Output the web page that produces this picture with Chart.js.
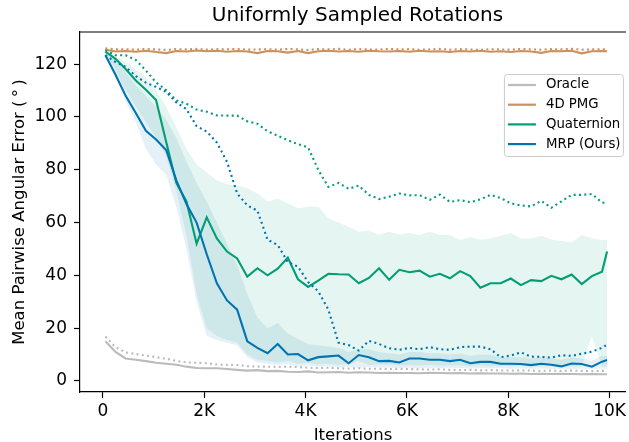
<!DOCTYPE html>
<html>
<head>
<meta charset="utf-8">
<title>Uniformly Sampled Rotations</title>
<script src="https://cdn.jsdelivr.net/npm/chart.js@4.4.0/dist/chart.umd.min.js"></script>
<style>
  html, body { margin: 0; padding: 0; background: #fff; }
  canvas { display: block; }
</style>
</head>
<body>
<canvas id="rotationChart" width="629" height="442"></canvas>
<script>
// iterations where the curves were logged
const iterations = [50, 250, 450, 650, 850, 1050, 1250, 1450, 1650, 1850,
  2050, 2250, 2450, 2650, 2850, 3050, 3250, 3450, 3650, 3850,
  4050, 4250, 4450, 4650, 4850, 5050, 5250, 5450, 5650, 5850,
  6050, 6250, 6450, 6650, 6850, 7050, 7250, 7450, 7650, 7850,
  8050, 8250, 8450, 8650, 8850, 9050, 9250, 9450, 9650, 9850, 9950];
const xTicks = [0, 2000, 4000, 6000, 8000, 10000];
const yTicks = [0, 20, 40, 60, 80, 100, 120];
const seriesNames = ['Oracle', '4D PMG', 'Quaternion', 'MRP (Ours)'];
const chartTitle = 'Uniformly Sampled Rotations';

// solid = mean, dotted = second run
const oracleMean = [15.0, 11.0, 8.5, 8.0, 7.5, 6.9, 6.5, 6.1, 5.4, 4.9, 4.8, 4.8, 4.5, 4.2, 3.9, 4.1, 3.7, 3.8, 3.5, 3.4, 3.6, 3.2, 3.3, 3.4, 3.1, 3.3, 3.2, 3.0, 3.1, 3.0, 3.0, 2.9, 3.1, 3.0, 2.9, 3.0, 2.8, 2.9, 2.8, 2.8, 2.7, 2.8, 2.6, 2.7, 2.6, 2.7, 2.6, 2.5, 2.6, 2.5, 2.5];
const oracleDotted = [16.8, 12.8, 10.8, 10.2, 9.6, 9.0, 8.4, 7.6, 7.0, 6.9, 6.7, 6.2, 6.1, 6.0, 5.6, 5.4, 5.4, 5.3, 5.4, 5.2, 5.0, 4.9, 5.0, 4.8, 4.7, 4.8, 4.6, 4.6, 4.5, 4.6, 4.5, 4.4, 4.3, 4.4, 4.2, 4.1, 4.2, 4.0, 4.1, 4.0, 3.9, 4.0, 3.9, 3.8, 3.9, 3.8, 3.9, 3.8, 3.7, 3.8, 3.8];
const pmgMean = [125.5, 124.8, 125.0, 124.7, 125.1, 124.6, 124.2, 125.0, 124.8, 125.2, 124.9, 125.1, 124.7, 125.0, 124.8, 124.2, 125.0, 124.9, 124.4, 125.0, 124.2, 124.9, 125.1, 124.8, 125.0, 124.7, 125.1, 124.9, 124.8, 125.0, 124.7, 125.1, 124.8, 124.9, 124.6, 125.0, 124.8, 125.1, 124.7, 124.9, 124.6, 125.0, 124.8, 124.3, 125.0, 124.9, 125.1, 124.1, 124.9, 125.0, 124.9];
const pmgDotted = [126.0, 125.6, 125.7, 125.5, 125.8, 125.6, 125.4, 125.7, 125.6, 125.8, 125.5, 125.7, 125.6, 125.8, 125.5, 125.6, 125.7, 125.5, 125.8, 125.6, 125.4, 125.7, 125.6, 125.8, 125.5, 125.7, 125.6, 125.5, 125.8, 125.6, 125.7, 125.5, 125.6, 125.8, 125.5, 125.7, 125.6, 125.4, 125.7, 125.6, 125.5, 125.8, 125.6, 125.5, 125.7, 125.6, 125.8, 125.5, 125.6, 125.7, 125.6];
const quatMean = [124.8, 122.0, 118.2, 113.8, 110.3, 106.4, 90.5, 75.0, 68.0, 52.0, 62.0, 54.0, 49.0, 46.4, 39.5, 42.7, 40.0, 42.5, 46.7, 38.5, 35.6, 38.0, 40.6, 40.4, 40.3, 37.0, 39.0, 42.7, 38.3, 42.1, 41.2, 41.8, 39.5, 40.6, 38.9, 41.6, 39.7, 35.3, 37.0, 37.0, 38.8, 36.3, 38.2, 37.8, 39.8, 38.5, 40.3, 36.7, 39.7, 41.4, 49.0];
const quatDotted = [125.3, 123.4, 123.4, 121.6, 117.6, 113.1, 110.2, 106.3, 105.0, 102.8, 102.0, 100.6, 100.5, 100.5, 98.4, 97.4, 94.6, 92.9, 91.2, 89.7, 88.5, 80.0, 73.5, 75.0, 72.8, 74.0, 70.5, 68.9, 69.8, 71.0, 70.3, 70.4, 68.6, 70.6, 67.8, 68.5, 67.7, 68.8, 70.5, 69.3, 67.3, 66.5, 66.1, 68.2, 65.6, 68.0, 70.5, 70.5, 70.8, 67.6, 67.3];
const mrpMean = [123.4, 116.0, 108.0, 101.5, 94.8, 91.5, 87.5, 76.0, 67.0, 60.0, 48.0, 37.0, 30.5, 27.0, 15.0, 12.5, 10.5, 14.0, 10.0, 10.2, 7.8, 9.0, 9.3, 9.6, 6.7, 9.8, 9.0, 7.5, 7.6, 7.0, 8.5, 8.5, 8.0, 8.0, 7.5, 8.0, 6.7, 7.2, 7.2, 6.5, 6.5, 6.4, 6.0, 6.5, 6.1, 5.5, 6.6, 6.4, 5.4, 7.3, 7.9];
const mrpDotted = [123.4, 120.8, 119.0, 115.5, 113.0, 111.4, 109.5, 105.5, 103.0, 96.5, 94.5, 90.3, 83.0, 71.0, 66.5, 64.5, 53.5, 51.5, 45.0, 43.3, 37.5, 34.0, 27.0, 14.5, 13.6, 11.5, 15.2, 14.0, 12.4, 11.8, 12.5, 12.0, 12.8, 12.0, 11.8, 12.8, 13.0, 13.0, 12.0, 9.0, 9.6, 10.8, 9.2, 9.1, 8.8, 9.7, 9.5, 10.3, 11.1, 12.5, 13.8];

// shaded spread
const quatLow = [124.0, 118.0, 110.0, 104.0, 98.0, 92.0, 85.0, 72.0, 55.0, 33.0, 20.0, 17.0, 15.5, 14.5, 10.0, 8.0, 7.5, 7.0, 7.5, 6.5, 6.8, 6.2, 6.5, 6.0, 6.3, 7.5, 6.0, 6.2, 6.0, 5.8, 6.0, 5.8, 6.0, 5.7, 5.8, 5.9, 5.6, 5.8, 5.6, 5.7, 5.6, 5.7, 5.5, 5.6, 5.5, 5.6, 5.5, 5.6, 17.0, 5.5, 5.5];
const quatHigh = [125.0, 123.0, 121.0, 118.0, 115.0, 110.0, 104.0, 96.0, 88.0, 82.0, 79.0, 76.0, 74.5, 74.0, 73.0, 71.0, 68.0, 69.0, 67.3, 65.4, 66.0, 66.0, 61.6, 60.0, 58.4, 56.5, 57.0, 55.5, 56.5, 55.5, 56.0, 55.3, 56.5, 55.3, 55.3, 53.4, 54.5, 53.5, 54.0, 55.0, 56.0, 54.0, 54.0, 55.0, 53.5, 53.0, 52.5, 55.3, 54.0, 53.4, 53.4];
const mrpLow = [123.0, 115.0, 106.0, 98.0, 88.0, 82.0, 78.0, 66.0, 50.0, 30.0, 17.0, 15.5, 14.5, 13.5, 9.0, 7.0, 6.5, 6.0, 6.3, 5.5, 5.8, 5.5, 5.6, 5.2, 5.4, 5.0, 5.3, 5.1, 5.0, 4.9, 5.0, 4.8, 5.0, 4.9, 4.8, 4.9, 4.7, 4.8, 4.7, 4.8, 4.6, 4.7, 4.6, 4.7, 4.5, 4.6, 4.5, 4.6, 4.5, 4.6, 4.6];
const mrpHigh = [124.0, 121.5, 117.0, 112.0, 108.0, 104.0, 99.0, 92.0, 83.0, 75.0, 68.0, 60.0, 52.0, 44.0, 33.0, 24.0, 20.0, 22.0, 18.0, 16.0, 14.0, 13.5, 13.0, 12.5, 11.0, 12.0, 12.0, 11.0, 10.5, 10.0, 11.0, 11.0, 10.5, 10.5, 10.0, 10.5, 9.5, 10.0, 10.0, 9.0, 9.0, 9.0, 8.5, 9.0, 8.5, 8.0, 9.0, 8.5, 7.5, 9.5, 9.5];

const palette = {
  'Oracle': '#bbbbbb',
  '4D PMG': '#ca9161',
  'Quaternion': '#029e73',
  'MRP (Ours)': '#0173b2'
};

Chart.defaults.font.family = '"DejaVu Sans", sans-serif';
Chart.defaults.color = '#000';

function pts(values) {
  return iterations.map((it, i) => ({ x: it, y: values[i] }));
}

function solid(name, values, order) {
  return { label: name, data: pts(values), borderColor: palette[name], borderWidth: 2.1,
    pointRadius: 0, fill: false, tension: 0, order: order };
}

function dotted(name, values, order) {
  return { label: name + ' dotted', data: pts(values), borderColor: palette[name], borderWidth: 2.1,
    borderDash: [2, 3.3], pointRadius: 0, fill: false, tension: 0, order: order };
}

function bandEdge(values, fillTo, color, order) {
  return { label: 'band', data: pts(values), borderWidth: 0, borderColor: 'rgba(0,0,0,0)',
    pointRadius: 0, fill: fillTo, backgroundColor: color, tension: 0, order: order };
}

// top spine + title (the axes box continues past the right edge of the picture)
const frameAndTitle = {
  id: 'frameAndTitle',
  afterDraw(chart) {
    const { ctx, chartArea: a } = chart;
    ctx.save();
    ctx.strokeStyle = '#000';
    ctx.lineWidth = 1.2;
    ctx.beginPath();
    ctx.moveTo(a.left, a.top);
    ctx.lineTo(a.right, a.top);
    ctx.stroke();
    ctx.fillStyle = '#000';
    ctx.font = '20px "DejaVu Sans"';
    ctx.textAlign = 'center';
    ctx.textBaseline = 'middle';
    ctx.fillText(chartTitle, (a.left + a.right) / 2 + 4.5, 15.5);
    ctx.restore();
  }
};

const boxLegend = {
  id: 'boxLegend',
  afterDraw(chart) {
    const { ctx, chartArea: a } = chart;
    const w = 119, h = 82;
    const left = a.right - 3 - w, top = a.top + 42;
    ctx.save();
    ctx.beginPath();
    ctx.roundRect(left + 0.5, top + 0.5, w, h, 3);
    ctx.fillStyle = 'rgba(255,255,255,0.8)';
    ctx.fill();
    ctx.strokeStyle = '#cccccc';
    ctx.lineWidth = 1;
    ctx.stroke();
    ctx.font = '13.3px "DejaVu Sans"';
    ctx.textBaseline = 'middle';
    seriesNames.forEach((name, i) => {
      const y = top + 11 + i * 19.7;
      ctx.strokeStyle = palette[name];
      ctx.lineWidth = 2.2;
      ctx.beginPath();
      ctx.moveTo(left + 4, y);
      ctx.lineTo(left + 32, y);
      ctx.stroke();
      ctx.fillStyle = '#000';
      ctx.fillText(name, left + 42, y);
    });
    ctx.restore();
  }
};

const ctx = document.getElementById('rotationChart').getContext('2d');

const rotationChart = new Chart(ctx, {
  type: 'line',
  data: {
    datasets: [
      bandEdge(quatLow, false, 'rgba(0,0,0,0)', 20),
      bandEdge(quatHigh, '-1', 'rgba(2,158,115,0.1)', 20),
      bandEdge(mrpLow, false, 'rgba(0,0,0,0)', 19),
      bandEdge(mrpHigh, '-1', 'rgba(1,115,178,0.1)', 19),
      dotted('Oracle', oracleDotted, 9),
      solid('Oracle', oracleMean, 8),
      dotted('4D PMG', pmgDotted, 7),
      solid('4D PMG', pmgMean, 6),
      dotted('Quaternion', quatDotted, 5),
      solid('Quaternion', quatMean, 4),
      dotted('MRP (Ours)', mrpDotted, 3),
      solid('MRP (Ours)', mrpMean, 2)
    ]
  },
  options: {
    responsive: false,
    animation: false,
    devicePixelRatio: 1,
    layout: { padding: { top: 32, right: 0, bottom: 0, left: 0 } },
    plugins: {
      legend: { display: false },
      tooltip: { enabled: false },
      title: { display: false }
    },
    scales: {
      x: {
        type: 'linear',
        min: -451,
        max: 10322,
        afterBuildTicks: (axis) => { axis.ticks = xTicks.map(v => ({ value: v })); },
        afterFit: (scale) => { scale.height = 50; },
        ticks: {
          font: { size: 17 },
          color: '#000',
          padding: 3,
          maxRotation: 0,
          callback: (v) => v === 0 ? '0' : (v / 1000) + 'K'
        },
        grid: { display: true, drawOnChartArea: false, drawTicks: true, tickLength: 6, tickWidth: 1.2, tickColor: '#000' },
        border: { display: true, color: '#000', width: 1.2 },
        title: { display: true, text: 'Iterations', font: { size: 16.5, lineHeight: 1.0 }, color: '#000', padding: { top: 0, bottom: -1.5 } }
      },
      y: {
        min: -4.2,
        max: 132.2,
        afterBuildTicks: (axis) => { axis.ticks = yTicks.map(v => ({ value: v })); },
        afterFit: (scale) => { scale.width = 80; },
        ticks: { font: { size: 17 }, color: '#000', padding: 7 },
        grid: { display: true, drawOnChartArea: false, drawTicks: true, tickLength: 6, tickWidth: 1.2, tickColor: '#000' },
        border: { display: true, color: '#000', width: 1.2 },
        title: { display: true, text: 'Mean Pairwise Angular Error (\u2009°\u2009)', font: { size: 16.5 }, color: '#000', padding: { top: 10, bottom: 0 } }
      }
    }
  },
  plugins: [frameAndTitle, boxLegend]
});
</script>
</body>
</html>
